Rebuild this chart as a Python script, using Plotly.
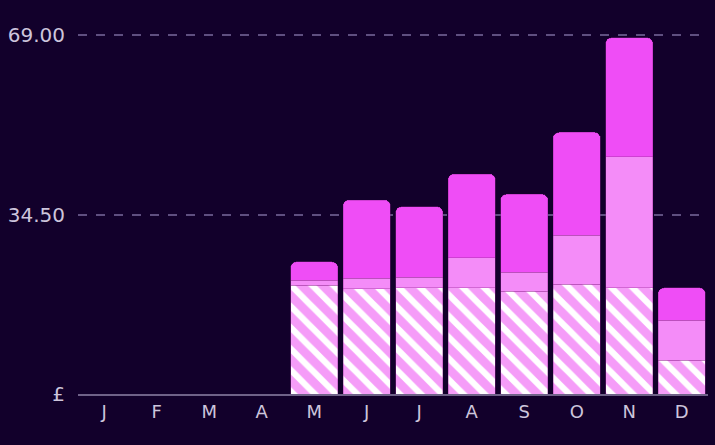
import plotly.graph_objects as go

months = ["J", "F", "M", "A", "M", "J", "J", "A", "S", "O", "N", "D"]
base = [None, None, None, None, 20.9, 20.2, 20.4, 20.4, 19.8, 21.1, 20.4, 6.5]
middle = [None, None, None, None, 1.0, 2.1, 2.1, 5.8, 3.6, 9.4, 25.2, 7.7]
top = [None, None, None, None, 3.5, 15.0, 13.5, 16.1, 15.0, 19.8, 22.9, 6.2]
ytick_vals = [0, 34.5, 69.0]
ytick_text = ["£", "34.50", "69.00"]

x = list(range(len(months)))
BG = "#12002b"
line = dict(color="rgba(150,40,150,0.6)", width=0.6)

fig = go.Figure()
fig.add_bar(x=x, y=base, marker=dict(color="#f5a0f8", line=line,
            pattern=dict(shape="\\", fgcolor="#ffffff", bgcolor="#f59cf8",
                         size=15, solidity=0.42, fillmode="replace")))
fig.add_bar(x=x, y=middle, marker=dict(color="#f48cf8", line=line))
fig.add_bar(x=x, y=top, marker=dict(color="#ef4df6", line=line))

fig.update_layout(
    barmode="stack", bargap=0.1, barcornerradius=6, showlegend=False,
    width=715, height=445, paper_bgcolor=BG, plot_bgcolor=BG,
    margin=dict(l=78, r=7, t=30, b=51),
    font=dict(family="DejaVu Sans, sans-serif", color="#cdc5dc"),
    hovermode=False,
)
fig.update_xaxes(tickmode="array", tickvals=x, ticktext=months, range=[-0.5, 11.5],
                 showline=True, linecolor="#6f6288", linewidth=2, showgrid=False,
                 ticks="", tickfont=dict(size=18), zeroline=False)
fig.update_yaxes(range=[0, 70], tickmode="array", tickvals=ytick_vals, ticktext=ytick_text,
                 showgrid=True, gridcolor="#5f4f80", griddash="dash", gridwidth=1.5,
                 zeroline=False, tickfont=dict(size=20), ticks="", ticklabelstandoff=12)
fig.write_html("out.html", config={"displayModeBar": False},
               post_script="document.body.style.margin='0';")
